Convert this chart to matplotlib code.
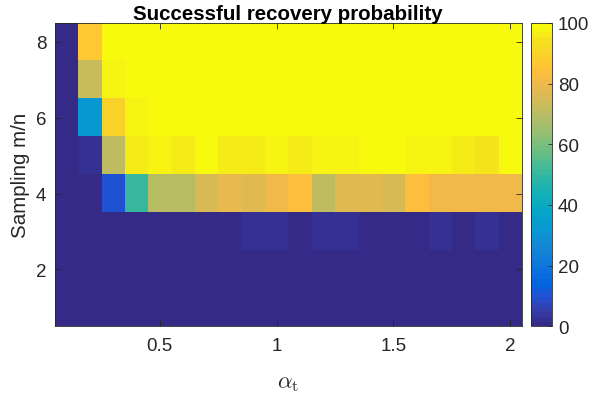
import numpy as np
import matplotlib
matplotlib.use('Agg')
import matplotlib.pyplot as plt
from matplotlib.colors import LinearSegmentedColormap

plt.rcParams['font.family'] = ['Liberation Sans', 'DejaVu Sans']
plt.rcParams['mathtext.fontset'] = 'cm'

# alpha_t (columns) and sampling ratio m/n (rows)
alpha = [0.1, 0.2, 0.3, 0.4, 0.5, 0.6, 0.7, 0.8, 0.9, 1.0,
         1.1, 1.2, 1.3, 1.4, 1.5, 1.6, 1.7, 1.8, 1.9, 2.0]
sampling = [1, 2, 3, 4, 5, 6, 7, 8]

# success probability in %, one list per sampling row
p1 = [0, 0, 0, 0, 0, 0, 0, 0, 0, 0, 0, 0, 0, 0, 0, 0, 0, 0, 0, 0]
p2 = [0, 0, 0, 0, 0, 0, 0, 0, 0, 0, 0, 0, 0, 0, 0, 0, 0, 0, 0, 0]
p3 = [0, 0, 0, 0, 0, 0, 0, 0, 3, 2, 0, 2, 2, 0, 0, 0, 3, 0, 3, 0]
p4 = [0, 0, 10, 51, 69, 70, 76, 79, 77, 81, 84, 71, 77, 77, 75, 83, 81, 81, 81, 81]
p5 = [0, 2, 71, 96, 98, 96, 99, 96, 96, 98, 96, 98, 98, 100, 100, 98, 98, 96, 94, 100]
p6 = [0, 32, 90, 98, 100, 100, 100, 100, 100, 100, 100, 100, 100, 100, 100, 100, 100, 100, 100, 100]
p7 = [0, 72, 97, 100, 100, 100, 100, 100, 100, 100, 100, 100, 100, 100, 100, 100, 100, 100, 100, 100]
p8 = [0, 86, 100, 100, 100, 100, 100, 100, 100, 100, 100, 100, 100, 100, 100, 100, 100, 100, 100, 100]

xticks = [0.5, 1, 1.5, 2]
xticklabels = ['0.5', '1', '1.5', '2']
yticks = [2, 4, 6, 8]
cticks = [0, 20, 40, 60, 80, 100]

# matlab parula (subset of the 64 entries)
parula_idx = [0, 3, 6, 8, 12, 16, 20, 24, 28, 32, 36, 40, 44, 48, 51, 53, 54, 57, 60, 63]
parula_rgb = [
    (0.2081, 0.1663, 0.5292), (0.2081, 0.2386, 0.6771), (0.1253, 0.3242, 0.8303),
    (0.0117, 0.3875, 0.8820), (0.0498, 0.4586, 0.8641), (0.0793, 0.5200, 0.8312),
    (0.0343, 0.5966, 0.8199), (0.0228, 0.6535, 0.7768), (0.0843, 0.6928, 0.7062),
    (0.2178, 0.7250, 0.6193), (0.3953, 0.7459, 0.5244), (0.5709, 0.7485, 0.4494),
    (0.7184, 0.7411, 0.3905), (0.8507, 0.7299, 0.3360), (0.9450, 0.7261, 0.2886),
    (0.9938, 0.7455, 0.2403), (0.9990, 0.7653, 0.2164), (0.9789, 0.8271, 0.1633),
    (0.9589, 0.8949, 0.1132), (0.9763, 0.9831, 0.0538)]
parula = LinearSegmentedColormap.from_list(
    'parula', [(i / 63, c) for i, c in zip(parula_idx, parula_rgb)], N=64)

Z = np.array([p1, p2, p3, p4, p5, p6, p7, p8])
dx = alpha[1] - alpha[0]
dy = sampling[1] - sampling[0]
extent = [alpha[0] - dx / 2, alpha[-1] + dx / 2, sampling[0] - dy / 2, sampling[-1] + dy / 2]

axcol = '0.15'
fig = plt.figure(figsize=(5.96, 4.02), dpi=100)
ax = fig.add_axes([0.0918, 0.1858, 0.7835, 0.7545])
im = ax.imshow(Z, cmap=parula, vmin=0, vmax=100, origin='lower', extent=extent,
               aspect='auto', interpolation='nearest')

ax.set_xticks(xticks)
ax.set_xticklabels(xticklabels)
ax.set_yticks(yticks)
ax.tick_params(direction='in', top=True, right=True, length=4, width=0.6,
               color=axcol, labelcolor=axcol, labelsize=13.5)
ax.tick_params(axis='x', pad=8)
ax.tick_params(axis='y', pad=6)
for s in ax.spines.values():
    s.set_color(axcol)
    s.set_linewidth(0.6)

ax.set_title('Successful recovery probability', fontsize=14.8, fontweight='bold', pad=3)
ax.set_xlabel(r'$\alpha_{\rm t}$', fontsize=16.5, color=axcol, labelpad=11)
ax.set_ylabel('Sampling m/n', fontsize=14.8, color=axcol, labelpad=4)

cax = fig.add_axes([0.8904, 0.1858, 0.0362, 0.7545])
cb = fig.colorbar(im, cax=cax, ticks=cticks)
cb.outline.set_edgecolor(axcol)
cb.outline.set_linewidth(0.6)
cax.tick_params(direction='in', length=3, width=0.6, color=axcol,
                labelcolor=axcol, labelsize=13.5, pad=4)

fig.savefig('out.png', dpi=100)
